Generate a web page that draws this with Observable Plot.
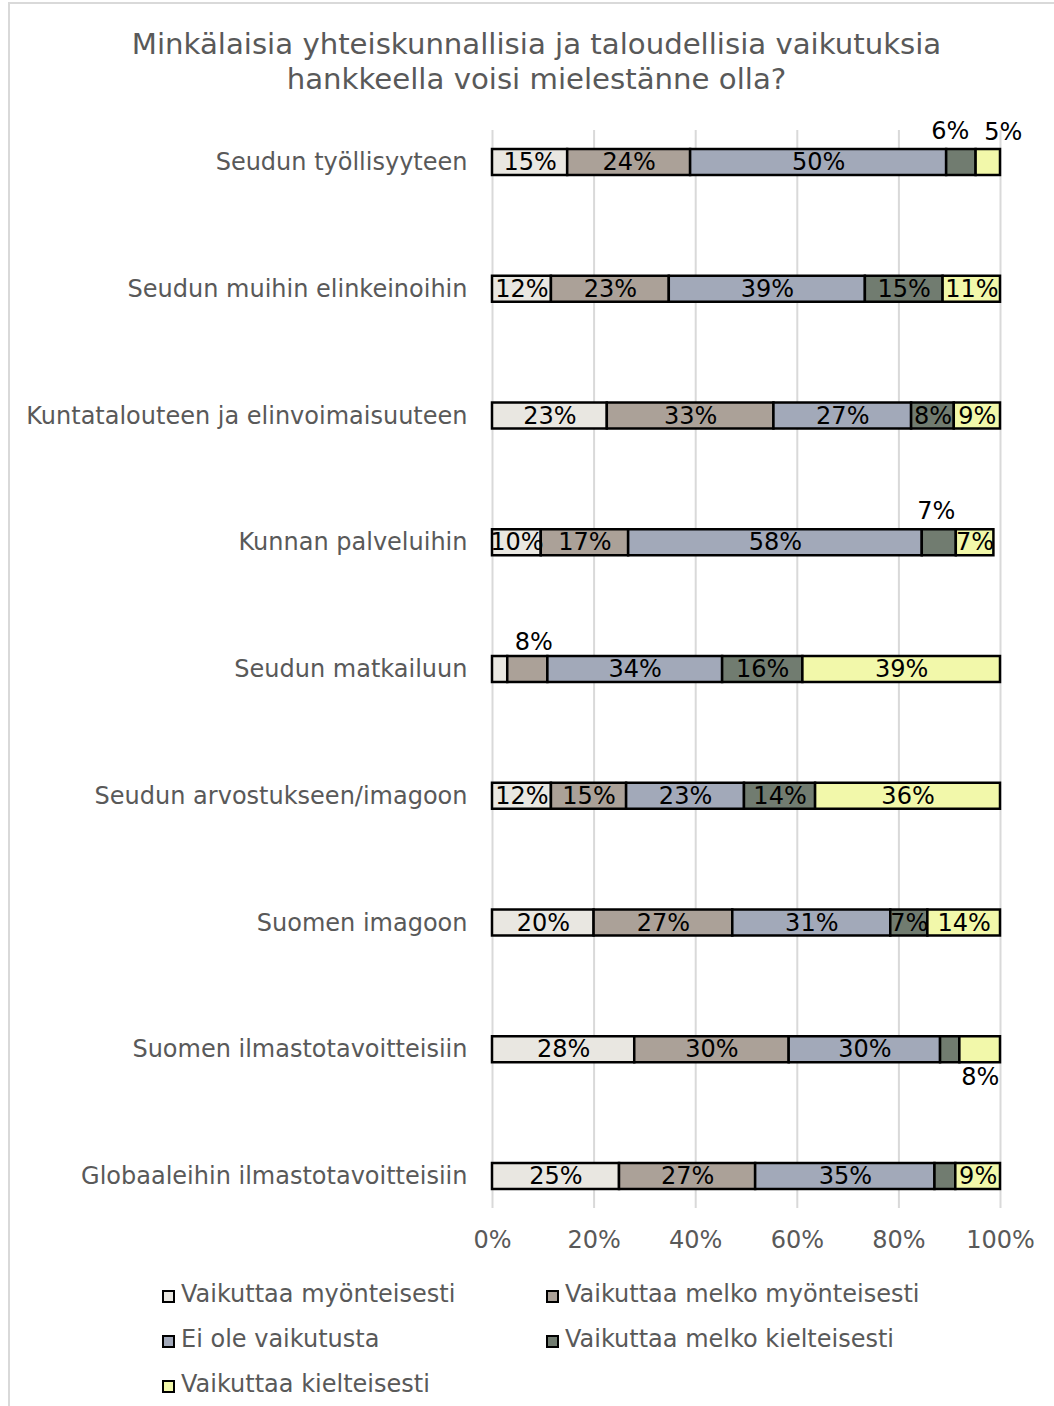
<!DOCTYPE html>
<html>
<head>
<meta charset="utf-8">
<script src="https://cdn.jsdelivr.net/npm/d3@7"></script>
<script src="https://cdn.jsdelivr.net/npm/@observablehq/plot@0.6"></script>
<style>
  html, body { margin: 0; padding: 0; background: #fff; overflow: hidden; }
  #wrap { position: relative; width: 1054px; height: 1406px; overflow: hidden; font-family: "DejaVu Sans", Verdana, sans-serif; }
  #frame { position: absolute; left: 8px; top: 2px; width: 1100px; height: 1500px; border-left: 2px solid #d9d9d9; border-top: 2px solid #d9d9d9; box-sizing: border-box; }
  #title { position: absolute; left: 0; top: 27px; width: 1073px; text-align: center; font-size: 29.2px; line-height: 35px; color: #595959; }
  #chart { position: absolute; left: 0; top: 100px; }
  .lg-sq { position: absolute; width: 13px; height: 13px; border: 2px solid #000; box-sizing: border-box; }
  .lg-tx { position: absolute; font-size: 24px; line-height: 28px; color: #595959; white-space: nowrap; }
</style>
</head>
<body>
<div id="wrap">
  <div id="frame"></div>
  <div id="title">Minkälaisia yhteiskunnallisia ja taloudellisia vaikutuksia<br>hankkeella voisi mielestänne olla?</div>
  <div id="chart"></div>
  <div id="legend"></div>
</div>
<script>
// ---- Data ----
const questions = [
  "Seudun työllisyyteen",
  "Seudun muihin elinkeinoihin",
  "Kuntatalouteen ja elinvoimaisuuteen",
  "Kunnan palveluihin",
  "Seudun matkailuun",
  "Seudun arvostukseen/imagoon",
  "Suomen imagoon",
  "Suomen ilmastotavoitteisiin",
  "Globaaleihin ilmastotavoitteisiin"
];
const categories = [
  "Vaikuttaa myönteisesti",
  "Vaikuttaa melko myönteisesti",
  "Ei ole vaikutusta",
  "Vaikuttaa melko kielteisesti",
  "Vaikuttaa kielteisesti"
];
const myonteisesti      = [14.8, 11.6, 22.6,  9.6,  3.0, 11.6, 20.0, 28.0, 25.0];
const melkoMyonteisesti = [24.2, 23.2, 32.8, 17.2,  7.9, 14.8, 27.3, 30.4, 26.8];
const eiVaikutusta      = [50.4, 38.6, 27.1, 57.8, 34.4, 23.2, 31.1, 29.8, 35.3];
const melkoKielteisesti = [ 5.8, 15.3,  8.4,  6.7, 15.8, 14.0,  7.3,  3.8,  4.1];
const kielteisesti      = [ 4.8, 11.3,  9.1,  7.4, 38.9, 36.4, 14.3,  8.0,  8.8];
const xTicks = [0, 20, 40, 60, 80, 100];

// ---- Styling ----
const colors = ["#e9e7e1", "#aba198", "#a2a9b9", "#717c70", "#f2f8aa"];
const series = [myonteisesti, melkoMyonteisesti, eiVaikutusta, melkoKielteisesti, kielteisesti];

const rows = [];
questions.forEach((q, i) => {
  series.forEach((s, j) => {
    rows.push({question: q, category: categories[j], value: s[i], label: Math.round(s[i]) + "%"});
  });
});

// label placement (styling, not data)
const hidden = new Set([
  "Seudun matkailuun|Vaikuttaa myönteisesti",
  "Suomen ilmastotavoitteisiin|Vaikuttaa melko kielteisesti",
  "Globaaleihin ilmastotavoitteisiin|Vaikuttaa melko kielteisesti"
]);
const outside = [
  {key: "Seudun työllisyyteen|Vaikuttaa melko kielteisesti", dx: -11, dy: -31},
  {key: "Seudun työllisyyteen|Vaikuttaa kielteisesti", dx: 15, dy: -30},
  {key: "Kunnan palveluihin|Vaikuttaa melko kielteisesti", dx: -3, dy: -31},
  {key: "Seudun matkailuun|Vaikuttaa melko myönteisesti", dx: 6, dy: -27},
  {key: "Suomen ilmastotavoitteisiin|Vaikuttaa kielteisesti", dx: 0, dy: 28}
];
const keyOf = d => d.question + "|" + d.category;
const outsideKeys = new Set(outside.map(o => o.key));

const textMarks = [
  Plot.text(rows, Plot.stackX({
    x: "value", y: "question", z: "category", order: categories,
    text: d => (hidden.has(keyOf(d)) || outsideKeys.has(keyOf(d))) ? null : d.label,
    fill: "black", fontSize: 24
  })),
  ...outside.map(o => Plot.text(rows, Plot.stackX({
    x: "value", y: "question", z: "category", order: categories,
    text: d => keyOf(d) === o.key ? d.label : null,
    fill: "black", fontSize: 24, dx: o.dx, dy: o.dy
  })))
];

const chart = Plot.plot({
  width: 1054,
  height: 1160,
  marginLeft: 492,
  marginRight: 54,
  marginTop: 30,
  marginBottom: 52,
  style: {fontFamily: "DejaVu Sans, Verdana, sans-serif", color: "#595959", background: "transparent", overflow: "visible"},
  x: {domain: [0, 100]},
  y: {domain: questions, type: "band", paddingInner: 0.795, paddingOuter: 0.15, round: false},
  color: {domain: categories, range: colors},
  marks: [
    Plot.gridX(xTicks, {stroke: "#d9d9d9", strokeOpacity: 1, strokeWidth: 2}),
    Plot.barX(rows, Plot.stackX({
      x: "value", y: "question", fill: "category", order: categories,
      stroke: "black", strokeWidth: 2.5
    })),
    ...textMarks,
    Plot.axisX(xTicks, {tickSize: 0, tickPadding: 22, fontSize: 24, tickFormat: d => d + "%", label: null}),
    Plot.axisY({tickSize: 0, tickPadding: 25, fontSize: 24, label: null})
  ]
});
document.getElementById("chart").appendChild(chart);

// ---- Legend ----
const legend = document.getElementById("legend");
const colX = [162, 546];
categories.forEach((c, i) => {
  const col = i % 2, row = Math.floor(i / 2);
  const top = 1280 + row * 45;
  const sq = document.createElement("div");
  sq.className = "lg-sq";
  sq.style.left = colX[col] + "px";
  sq.style.top = (top + 10) + "px";
  sq.style.background = colors[i];
  legend.appendChild(sq);
  const tx = document.createElement("div");
  tx.className = "lg-tx";
  tx.style.left = (colX[col] + 19) + "px";
  tx.style.top = top + "px";
  tx.textContent = c;
  legend.appendChild(tx);
});
</script>
</body>
</html>
